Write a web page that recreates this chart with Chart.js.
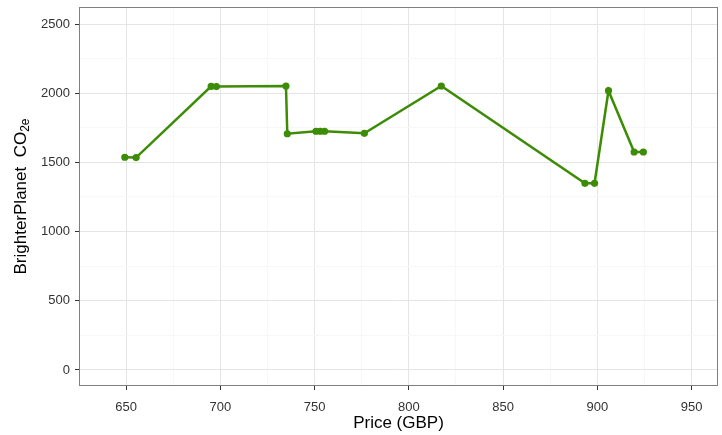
<!DOCTYPE html>
<html>
<head>
<meta charset="utf-8">
<script src="https://cdn.jsdelivr.net/npm/chart.js@4.4.1/dist/chart.umd.min.js"></script>
<style>
  html, body { margin: 0; padding: 0; background: #fff; }
  #wrap { width: 722px; height: 435px; }
</style>
</head>
<body>
<div id="wrap"><canvas id="co2Chart" width="722" height="435"></canvas></div>
<script>
// ===== Data =====
const prices = [649.3, 655.3, 695.1, 697.9, 734.8, 735.5, 750.7, 753.0, 755.3,
                776.4, 817.2, 893.4, 898.5, 905.9, 919.5, 924.4];
const co2 = [1537, 1535, 2050, 2048, 2052, 1707, 1725, 1725, 1725,
             1710, 2052, 1349, 1349, 2018, 1575, 1575];

const xTicks = [650, 675, 700, 725, 750, 775, 800, 825, 850, 875, 900, 925, 950];
const yTicks = [0, 250, 500, 750, 1000, 1250, 1500, 1750, 2000, 2250, 2500];
const xMajor = [650, 700, 750, 800, 850, 900, 950];
const yMajor = [0, 500, 1000, 1500, 2000, 2500];

const green = '#3d8c06';
const font = "'Liberation Sans', Arial, Helvetica, sans-serif";

// ===== Helpers =====
function gridColor(major) {
    return ctx => {
        const v = ctx.tick ? ctx.tick.value : null;
        return major.includes(v) ? '#e5e5e5' : '#f7f7f7';
    };
}
function tickColor(major) {
    return ctx => {
        const v = ctx.tick ? ctx.tick.value : null;
        return major.includes(v) ? '#333333' : 'rgba(0,0,0,0)';
    };
}

// border around the panel + y title with subscript
const panelPlugin = {
    id: 'panel',
    afterDraw(chart) {
        const c = chart.ctx;
        const a = chart.chartArea;
        c.save();
        c.strokeStyle = '#7f7f7f';
        c.lineWidth = 1;
        c.strokeRect(a.left + 0.5, a.top + 0.5, a.right - a.left - 1, a.bottom - a.top - 1);

        // y axis title
        const main = 'BrighterPlanet  CO';
        const sub = '2e';
        c.translate(21, (a.top + a.bottom) / 2);
        c.rotate(-Math.PI / 2);
        c.fillStyle = '#000';
        c.textBaseline = 'middle';
        c.font = '17px ' + font;
        const w1 = c.measureText(main).width;
        c.font = '12px ' + font;
        const w2 = c.measureText(sub).width;
        const start = -(w1 + w2) / 2;
        c.font = '17px ' + font;
        c.fillText(main, start, 0);
        c.font = '12px ' + font;
        c.fillText(sub, start + w1, 5);
        c.restore();
    }
};

// ===== Chart =====
const ctx = document.getElementById('co2Chart').getContext('2d');
const co2Chart = new Chart(ctx, {
    type: 'line',
    data: {
        datasets: [{
            data: prices.map((p, i) => ({ x: p, y: co2[i] })),
            borderColor: green,
            backgroundColor: green,
            borderWidth: 2.5,
            pointRadius: 3.6,
            pointBorderWidth: 0,
            pointBackgroundColor: green,
            fill: false,
            tension: 0
        }]
    },
    options: {
        responsive: false,
        animation: false,
        layout: { padding: { left: 0, top: 7, right: 4, bottom: 0 } },
        plugins: {
            legend: { display: false },
            tooltip: { enabled: false }
        },
        scales: {
            x: {
                type: 'linear',
                min: 625,
                max: 964,
                afterBuildTicks: s => { s.ticks = xTicks.map(v => ({ value: v })); },
                afterFit: s => { s.height = 49; s.paddingLeft = 0; s.paddingRight = 0; },
                border: { display: false },
                grid: {
                    color: gridColor(xMajor),
                    tickColor: tickColor(xMajor),
                    tickLength: 4,
                    lineWidth: 1
                },
                ticks: {
                    autoSkip: false,
                    maxRotation: 0,
                    padding: 10,
                    color: '#333333',
                    font: { family: font, size: 13 },
                    callback: v => xMajor.includes(v) ? String(v) : ''
                },
                title: {
                    display: true,
                    text: 'Price (GBP)',
                    color: '#000',
                    font: { family: font, size: 17 },
                    padding: { top: 0, bottom: 1 }
                }
            },
            y: {
                type: 'linear',
                min: -116,
                max: 2623,
                afterBuildTicks: s => { s.ticks = yTicks.map(v => ({ value: v })); },
                afterFit: s => { s.width = 79; s.paddingTop = 0; s.paddingBottom = 0; },
                border: { display: false },
                grid: {
                    color: gridColor(yMajor),
                    tickColor: tickColor(yMajor),
                    tickLength: 4,
                    lineWidth: 1
                },
                ticks: {
                    autoSkip: false,
                    padding: 5,
                    color: '#333333',
                    font: { family: font, size: 13 },
                    callback: v => yMajor.includes(v) ? String(v) : ''
                }
            }
        }
    },
    plugins: [panelPlugin]
});
</script>
</body>
</html>
